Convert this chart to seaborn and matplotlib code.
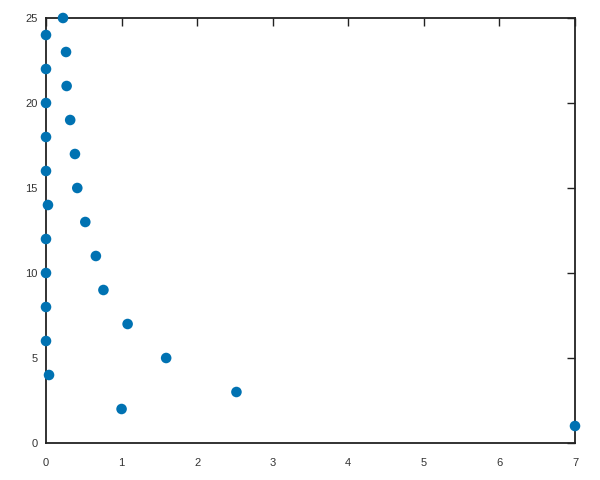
import matplotlib
matplotlib.use('Agg')
import matplotlib.pyplot as plt
import seaborn as sns
import pandas as pd

# 값은 그림에서 읽음
x_vals = [7.0, 1.0, 2.52, 0.04, 1.59, 0.0, 1.08, 0.0, 0.76, 0.0, 0.66, 0.0, 0.52,
          0.026, 0.414, 0.0, 0.383, 0.0, 0.32, 0.0, 0.273, 0.0, 0.265, 0.0, 0.225]
y_vals = list(range(1, 26))
x_ticks = [0, 1, 2, 3, 4, 5, 6, 7]
y_ticks = [0, 5, 10, 15, 20, 25]

df = pd.DataFrame({'x': x_vals, 'y': y_vals})

sns.set_style('white')
plt.rcParams['font.family'] = ['Liberation Sans', 'DejaVu Sans']

fig = plt.figure(figsize=(6, 4.8), dpi=100)
ax = fig.add_axes([46 / 600, 1 - 443 / 480, 529 / 600, 425 / 480])

sns.scatterplot(data=df, x='x', y='y', ax=ax, color='#0072b2', s=58,
                edgecolor='none', clip_on=False, zorder=3)

ax.set_xlim(0, 7)
ax.set_ylim(0, 25)
ax.set_xticks(x_ticks)
ax.set_yticks(y_ticks)
ax.set_xlabel('')
ax.set_ylabel('')
ax.tick_params(direction='in', length=6, width=1, color='#222222',
               labelsize=8, labelcolor='#333333', top=True, right=True,
               labeltop=False, labelright=False)
ax.tick_params(axis='x', pad=11)
ax.tick_params(axis='y', pad=6)
for sp in ax.spines.values():
    sp.set_visible(True)
    sp.set_color('#222222')
    sp.set_linewidth(1.3)

fig.savefig('out.png', dpi=100)
